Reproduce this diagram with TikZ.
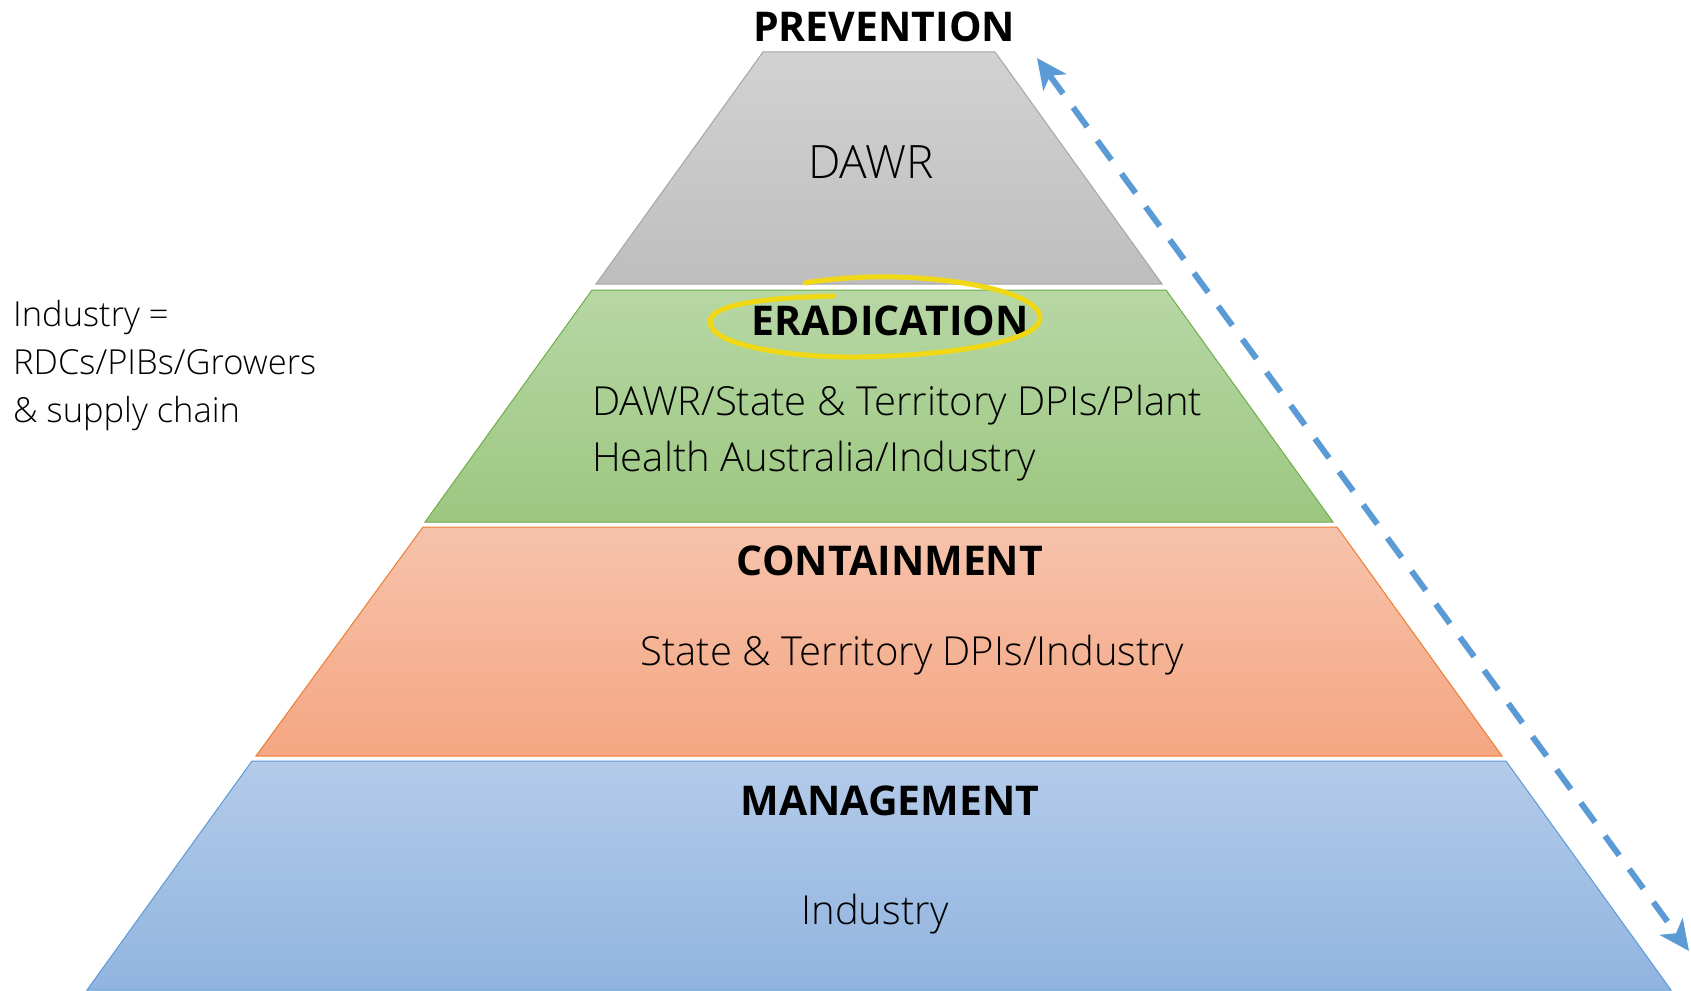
\documentclass[tikz,border=0pt]{standalone}
\usepackage{fontspec}
\setmainfont{Open Sans}
\newfontfamily\lightfont{Open Sans Light}
\usetikzlibrary{arrows.meta}

\definecolor{grayTop}{RGB}{210,210,210}
\definecolor{grayBot}{RGB}{190,190,190}
\definecolor{grayLine}{RGB}{165,165,165}
\definecolor{greenTop}{RGB}{183,215,165}
\definecolor{greenBot}{RGB}{156,199,128}
\definecolor{greenLine}{RGB}{112,173,71}
\definecolor{orangeTop}{RGB}{246,195,172}
\definecolor{orangeBot}{RGB}{245,166,130}
\definecolor{orangeLine}{RGB}{237,125,49}
\definecolor{blueTop}{RGB}{180,203,233}
\definecolor{blueBot}{RGB}{145,180,224}
\definecolor{blueLine}{RGB}{91,155,213}
\definecolor{markYellow}{RGB}{240,216,20}

\newcommand\headfont{\fontsize{41}{49}\selectfont\bfseries}
\newcommand\bodyfont{\lightfont\fontsize{40}{56}\selectfont}
\newcommand\sidefont{\lightfont\fontsize{34.5}{48}\selectfont}

\begin{document}
\begin{tikzpicture}[x=1pt,y=-1pt]

    \tikzset{
      layer/.style={
        line width=1pt,
        shading angle=0,
      },
      heading/.style={
        anchor=center,
        inner sep=0pt,
        font=\headfont,
      },
      label/.style={
        anchor=center,
        inner sep=0pt,
        font=\bodyfont,
      },
      flow/.style={
        color=blueLine,
        line width=6pt,
        dash pattern=on 24pt off 17pt,
        {Stealth[length=30pt,width=28pt,inset=8pt]}-{Stealth[length=30pt,width=28pt,inset=8pt]},
      },
    }
    \useasboundingbox (0,0) rectangle (1691,990);
	% the four layers of the pyramid
	\draw[layer,draw=grayLine,top color=grayTop,bottom color=grayBot] (763,52)--(995,52)--(1162,284)--(596,284)--cycle;
	\draw[layer,draw=greenLine,top color=greenTop,bottom color=greenBot] (592,290)--(1166,290)--(1333,522)--(425,522)--cycle;
	\draw[layer,draw=orangeLine,top color=orangeTop,bottom color=orangeBot] (423,527)--(1337,527)--(1502,756)--(256,756)--cycle;
	\draw[layer,draw=blueLine,top color=blueTop,bottom color=blueBot] (252,761)--(1506,761)--(1671,990)--(87,990)--cycle;

	\node[heading] (prevention) at (884,27) {PREVENTION};
	\node[label,font=\lightfont\fontsize{46}{52}\selectfont] (dawr) at (871,162) {DAWR};
	\node[heading] (eradication) at (890,321) {ERADICATION};
	\node[label,anchor=west,align=left] (eradwho) at (592,433) {DAWR/State \& Territory DPIs/Plant\\Health Australia/Industry};
	\node[heading] (containment) at (890,561) {CONTAINMENT};
	\node[label] (containwho) at (912,655) {State \& Territory DPIs/Industry};
	\node[heading] (management) at (890,801) {MANAGEMENT};
	\node[label] (managewho) at (875,914) {Industry};

	\node[anchor=west,align=left,inner sep=0pt,font=\sidefont] (industry) at (13,366) {Industry =\\RDCs/PIBs/Growers\\\& supply chain};

	% hand drawn ring round ERADICATION
	\draw[markYellow,line width=5pt,line cap=round] (833,296) .. controls (760,298) and (710,305) .. (710,322) .. controls (710,345) and (790,358) .. (860,357) .. controls (960,355) and (1040,340) .. (1040,318) .. controls (1040,290) and (940,275) .. (870,277) .. controls (840,278) and (815,281) .. (805,283);

	\coordinate (top) at (1037,58);
	\coordinate (bottom) at (1689,951);
	\draw[flow] (top) -- (bottom);

\end{tikzpicture}
\end{document}
